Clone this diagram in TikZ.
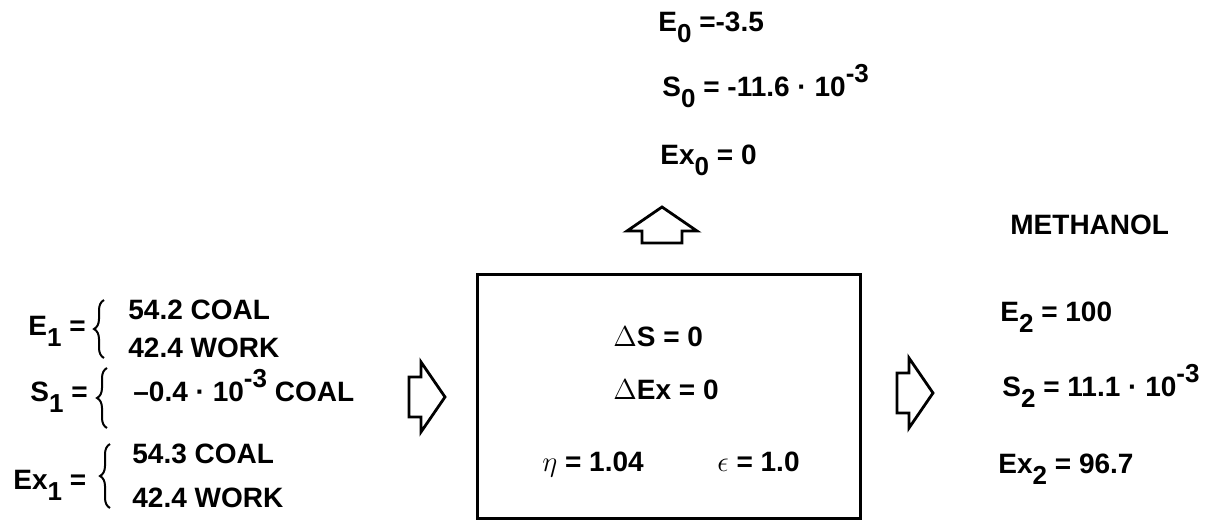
\documentclass[tikz,border=0pt]{standalone}
\usepackage{fontspec}
\setmainfont{Liberation Sans}
\usetikzlibrary{decorations.pathreplacing}
\newcommand{\lowsub}[1]{\raisebox{-5.5pt}{\fontsize{13}{13}\selectfont #1}}
\newcommand{\highsup}[1]{\raisebox{7pt}{\fontsize{13}{13}\selectfont #1}}
\begin{document}
\begin{tikzpicture}[x=0.5pt, y=-0.5pt, font=\fontsize{14}{17}\selectfont\bfseries,
        txt/.style={inner sep=0pt, anchor=base west},
        procbox/.style={draw, line width=1.5pt, minimum width=191.5pt,
            minimum height=122pt, inner sep=0pt},
        brc/.style={decorate, decoration={brace, amplitude=5pt}, line width=1pt},
        blockarrow/.pic={\draw[line width=1.4pt, line join=miter]
            (-18,-20) -- (-6,-20) -- (-6,-35) -- (18,0) -- (-6,35) -- (-6,20) -- (-18,20) -- cycle;}]
        \useasboundingbox (0,0) rectangle (1222,523);
        % process
        \node[procbox] (proc) at (668.5,397) {};
        \node[txt] (ds) at (613,347) {$\Delta$S = 0};
        \node[txt] (dex) at (613,400) {$\Delta$Ex = 0};
        \node[txt] (eta) at (542,472) {$\eta$ = 1.04};
        \node[txt] (eps) at (717,472) {$\epsilon$ = 1.0};
        % input
        \node[txt] (e1lbl) at (28,336) {E\lowsub{1} =};
        \node[txt] (e1coal) at (128,320) {54.2 COAL};
        \node[txt] (e1work) at (128,358) {42.4 WORK};
        \node[txt] (s1lbl) at (30,402) {S\lowsub{1} =};
        \node[txt] (s1coal) at (133,402) {--0.4 · 10\highsup{-3} COAL};
        \node[txt] (ex1lbl) at (13,490) {Ex\lowsub{1} =};
        \node[txt] (ex1coal) at (132,464) {54.3 COAL};
        \node[txt] (ex1work) at (132,508) {42.4 WORK};
        \draw[brc] ([xshift=-12pt]e1work.base west) -- ([xshift=-12pt]e1coal.north west);
        \draw[brc] ([xshift=-13pt, yshift=-13pt]s1coal.base west) -- ([xshift=-13pt, yshift=17pt]s1coal.base west);
        \draw[brc] ([xshift=-11pt]ex1work.base west) -- ([xshift=-11pt]ex1coal.north west);
        % loss
        \node[txt] (e0) at (658,32) {E\lowsub{0} =-3.5};
        \node[txt] (s0) at (662,97) {S\lowsub{0} = -11.6 · 10\highsup{-3}};
        \node[txt] (ex0) at (660,165) {Ex\lowsub{0} = 0};
        % output
        \node[txt] (meth) at (1010,235) {METHANOL};
        \node[txt] (e2) at (1000,322) {E\lowsub{2} = 100};
        \node[txt] (s2) at (1002,397) {S\lowsub{2} = 11.1 · 10\highsup{-3}};
        \node[txt] (ex2) at (998,474) {Ex\lowsub{2} = 96.7};
        % flows
        \pic at (427,397) {blockarrow};
        \pic[rotate=90] at (662,225) {blockarrow};
        \pic at (915,393) {blockarrow};
    \end{tikzpicture}
\end{document}
